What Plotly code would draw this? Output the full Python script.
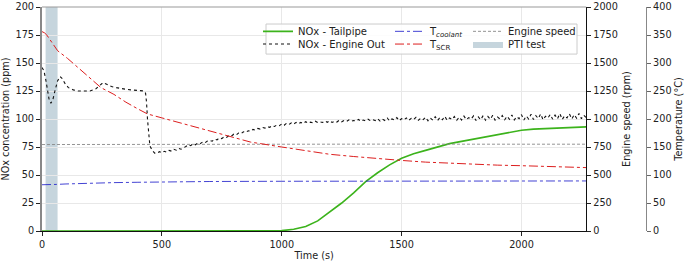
import plotly.graph_objects as go

# ---------------- data ----------------
# NOx tailpipe (ppm)
t_tp = [0, 900, 1000, 1050, 1100, 1150, 1200, 1250, 1300, 1350, 1400, 1450, 1500, 1550,
        1600, 1650, 1700, 1750, 1800, 1850, 1900, 1950, 2000, 2050, 2100, 2150, 2200, 2270]
nox_tp = [0, 0, 0.3, 1.5, 4, 9, 17, 25, 34, 44, 52, 59, 65, 69,
          72, 75, 78, 80, 82, 84, 86, 88, 90, 91, 91.5, 92, 92.5, 93]

# NOx engine out (ppm)
t_eo_early = [0, 8, 15, 22, 30, 37, 45, 55, 65, 75, 85, 95, 110, 130, 150, 175, 200, 225, 245,
              255, 270, 290, 310, 330, 350, 370, 390, 410, 425, 432, 436, 440, 445, 450, 460, 470]
nox_eo_early = [146, 143, 136, 126, 117, 114, 117, 126, 134, 138, 136, 132, 128, 126, 125, 125,
                125, 127, 131, 132.5, 131, 129, 128, 127, 126.5, 126, 125.5, 125, 125, 123, 115,
                100, 85, 76, 72, 69.5]
t_eo_late = list(range(480, 2271, 10))
nox_eo_late = [
    69.5, 70.8, 69.9, 71.2, 70.4, 72.0, 71.3, 72.9, 72.1, 73.8, 73.0, 74.6,
    75.4, 76.9, 76.2, 77.8, 77.0, 78.6, 77.9, 79.5, 78.8, 80.3, 80.9, 80.2, 82.0, 81.4, 83.1, 82.5, 84.2, 83.6, 85.3, 84.8,
    86.4, 85.7, 87.5, 86.9, 88.6, 88.0, 89.5, 89.0, 90.7, 90.1, 91.6, 91.0, 92.4, 91.9, 93.2, 92.6, 94.0, 93.3, 94.7, 94.1,
    95.6, 94.4, 96.2, 95.1, 96.5, 95.4, 97.0, 95.8, 96.9, 96.0, 97.6, 96.3, 97.2, 96.5, 98.0, 96.8, 97.5, 96.9, 98.2, 97.1,
    98.4, 96.9, 98.0, 97.3, 98.9, 97.5, 98.6, 97.8, 99.2, 97.9, 98.7, 98.1, 99.6, 98.0, 99.1, 98.3, 99.8, 98.4, 99.3, 98.6,
    100.2, 98.1, 99.8, 98.6, 100.9, 98.3, 100.1, 99.0, 101.2, 98.5, 100.4, 99.2, 101.0, 98.8, 100.6, 99.4, 101.5, 98.9, 100.8, 99.5,
    101.6, 98.4, 100.9, 99.0, 102.1, 98.7, 101.3, 99.3, 102.4, 98.9, 101.0, 99.6, 102.2, 98.8, 101.7, 99.1, 102.6, 99.4, 101.2, 99.9,
    102.8, 98.6, 101.9, 99.4, 103.0, 98.9, 102.2, 99.7, 103.3, 99.0, 101.8, 100.1, 103.1, 99.3, 102.5, 99.8, 103.6, 99.2, 102.0, 100.3,
    103.9, 99.1, 102.7, 100.0, 104.2, 99.5, 103.0, 100.4, 104.5, 99.3, 102.4, 100.8, 104.0, 99.9, 103.5, 100.2, 104.8, 99.6, 102.9, 101.0,
    104.6, 100.1, 103.8, 100.7, 105.0, 100.3, 103.4, 101.2]
t_eo = t_eo_early + t_eo_late
nox_eo = nox_eo_early + nox_eo_late

# Temperatures (°C)
t_cool = [0, 30, 60, 100, 200, 300, 400, 500, 700, 1000, 1500, 2000, 2270]
temp_cool = [82.6, 82.6, 83.2, 84.0, 85.6, 86.4, 87.0, 87.8, 88.4, 88.8, 89.0, 89.2, 89.4]
t_scr = [0, 10, 20, 40, 65, 107, 150, 200, 246, 300, 350, 400, 440, 500, 600, 662, 750, 870,
         1000, 1100, 1200, 1300, 1400, 1500, 1600, 1700, 1800, 1900, 2000, 2100, 2200, 2270]
temp_scr = [356, 354, 350, 338, 322, 308, 292, 274, 256, 244, 230, 218, 209, 202, 190, 182.6,
            172, 158.8, 150, 143, 137, 133, 129, 126, 123, 121, 119, 117.6, 116.6, 115.2, 114, 113.2]

# Engine speed (rpm)
t_es = [0, 300, 600, 900, 1200, 1500, 1800, 2100, 2270]
engine_speed = [772, 774, 773, 775, 774, 776, 775, 776, 775]

# PTI test window (s)
pti_window = [15, 65]

# ---------------- figure ----------------
FONT = "DejaVu Sans"
FS = 9.7
band_col = "rgba(160,185,198,0.6)"

fig = go.Figure()

fig.add_vrect(x0=pti_window[0], x1=pti_window[1], fillcolor=band_col, line_width=0, layer="below")

fig.add_trace(go.Scatter(x=t_tp, y=nox_tp, mode="lines", name="NOx - Tailpipe",
                         line=dict(color="#3cb31c", width=1.6), legend="legend"))
fig.add_trace(go.Scatter(x=t_eo, y=nox_eo, mode="lines", name="NOx - Engine Out",
                         line=dict(color="#111111", width=1.1, dash="dot"), legend="legend2"))
fig.add_trace(go.Scatter(x=t_cool, y=temp_cool, mode="lines", name="T<sub><i>coolant</i></sub>",
                         yaxis="y3", line=dict(color="rgba(20,20,200,0.8)", width=1, dash="dashdot"),
                         legend="legend3"))
fig.add_trace(go.Scatter(x=t_scr, y=temp_scr, mode="lines", name="T<sub>SCR</sub>",
                         yaxis="y3", line=dict(color="rgb(220,30,30)", width=1, dash="dashdot"),
                         legend="legend4"))
fig.add_trace(go.Scatter(x=t_es, y=engine_speed, mode="lines", name="Engine speed",
                         yaxis="y2", line=dict(color="#888888", width=0.9, dash="3px,2px"),
                         legend="legend5"))
fig.add_trace(go.Scatter(x=[None], y=[None], mode="lines", name="PTI test", fill="toself",
                         fillcolor=band_col, line=dict(width=0, color=band_col), legend="legend6"))

def px_x(px):
    return (px - 42) / 604.0

def px_y(py):
    return (230.7 - py) / 223.7

def leg(xpx, ypx):
    return dict(x=px_x(xpx), y=px_y(ypx), xanchor="left", yanchor="middle",
                bgcolor="rgba(0,0,0,0)", borderwidth=0, font=dict(family=FONT, size=10, color="#222"),
                itemwidth=30)

# legend frame
fig.add_shape(type="rect", xref="paper", yref="paper",
              x0=px_x(266), x1=px_x(577), y0=px_y(54), y1=px_y(24),
              line=dict(color="#cccccc", width=1), fillcolor="rgba(255,255,255,0.85)", layer="above")
# top spine
fig.add_shape(type="line", xref="paper", yref="paper", x0=0, x1=0.901, y0=1, y1=1,
              line=dict(color="#999999", width=1))

axis_font = dict(family=FONT, size=FS, color="#222")
fig.update_layout(
    width=685, height=261,
    margin=dict(l=42, r=39, t=7, b=30, autoexpand=False),
    paper_bgcolor="white", plot_bgcolor="white",
    font=dict(family=FONT, size=FS, color="#222"),
    showlegend=True,
    legend=leg(258, 31.3),
    legend2=leg(258, 44),
    legend3=leg(390, 31.3),
    legend4=leg(390, 44),
    legend5=leg(468, 31.3),
    legend6=leg(468, 44),
    xaxis=dict(domain=[0, 0.901], range=[0, 2270], dtick=500, tick0=0, automargin=False,
               ticks="outside", ticklen=4, tickcolor="#222",
               showgrid=True, gridcolor="#e8e8e8", gridwidth=1, zeroline=False,
               showline=True, linecolor="#111", linewidth=1.3,
               title=dict(text="Time (s)", font=axis_font, standoff=2), tickfont=axis_font),
    yaxis=dict(range=[0, 200], dtick=25, tick0=0, ticks="outside", ticklen=4, tickcolor="#222",
               automargin=False,
               showgrid=True, gridcolor="#e8e8e8", gridwidth=1, zeroline=False,
               showline=True, linecolor="#888888", linewidth=2,
               title=dict(text="NOx concentration (ppm)", font=axis_font, standoff=4), tickfont=axis_font),
    yaxis2=dict(range=[0, 2000], dtick=250, tick0=0, overlaying="y", side="right", anchor="x",
                automargin=False,
                ticks="outside", ticklen=4, tickcolor="#222", showgrid=False, zeroline=False,
                showline=True, linecolor="#111", linewidth=1.3,
                title=dict(text="Engine speed (rpm)", font=axis_font, standoff=6), tickfont=axis_font),
    yaxis3=dict(range=[0, 400], dtick=50, tick0=0, overlaying="y", side="right", anchor="free",
                automargin=False,
                position=1.0, ticks="outside", ticklen=4, tickcolor="#666", showgrid=False,
                zeroline=False, showline=True, linecolor="#888888", linewidth=1.3,
                title=dict(text="Temperature (°C)", font=axis_font, standoff=4), tickfont=axis_font),
)

fig.write_html("out.html", config={"displayModeBar": False},
               post_script="document.body.style.margin='0';document.body.style.overflow='hidden';")
